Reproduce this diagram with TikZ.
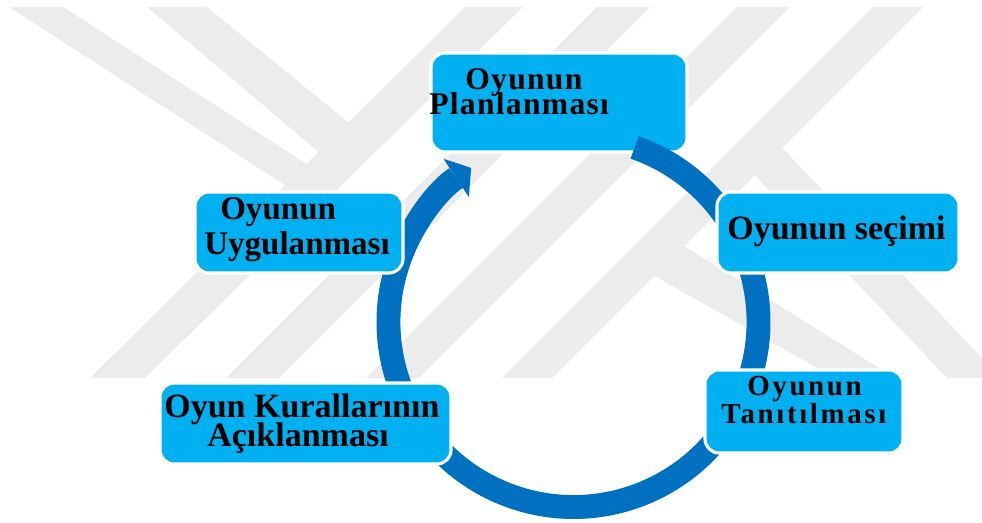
\documentclass[tikz,border=0pt]{standalone}
\usepackage{fontspec}
\setmainfont{Liberation Serif}
\usetikzlibrary{arrows.meta,calc}

\definecolor{boxblue}{RGB}{0,176,240}
\definecolor{ringblue}{RGB}{0,112,192}
\definecolor{wmgray}{RGB}{236,236,236}

% font size (pt) and letter spacing for the box texts
\newcommand{\boxfont}[2]{\bfseries\fontsize{#1}{#1}\selectfont\addfontfeature{LetterSpace=#2}}

\tikzset{
  stepbox/.style={draw=white, line width=2.2pt, fill=boxblue, rounded corners=10pt},
  steptext/.style={inner sep=0pt, anchor=base west},
  ring/.style={draw=ringblue, line width=17pt},
  wm/.style={fill=wmgray}
}

\begin{document}
\begin{tikzpicture}[x=0.025cm,y=-0.025cm]
\useasboundingbox (0,0) rectangle (982,522);

% watermark in the background
\begin{scope}
\clip (0,7) rectangle (982,378);
\fill[wm] (9,7) -- (63,7) -- (316,170) -- (308,200) -- cycle;
\fill[wm] (147,7) -- (207,7) -- (370,140) -- (340,170) -- cycle;
\fill[wm] (465,7) -- (523,7) -- (145,378) -- (90,378) -- cycle;
\fill[wm] (597,7) -- (650,7) -- (279,378) -- (226,378) -- cycle;
\fill[wm] (737,7) -- (790,7) -- (419,378) -- (366,378) -- cycle;
\fill[wm] (873,7) -- (923,7) -- (552,378) -- (502,378) -- cycle;
\fill[wm] (742,162) -- (770,135) -- (1001,378) -- (947,378) -- cycle;
\fill[wm] (630,262) -- (668,236) -- (895,378) -- (835,378) -- cycle;
\end{scope}

% boxes
\node[stepbox, minimum width=256*0.025cm, minimum height=99*0.025cm] (plan) at (559,102.5) {};
\node[steptext] (plan1) at (465,89) {\boxfont{22.5}{4}Oyunun};
\node[steptext] (plan2) at (429,114) {\boxfont{22.5}{4}Planlanması};

% the ring with its arrow
\coordinate (c) at (573.5,322);
\draw[ring, -{Triangle[length=12.8pt, width=32.7pt, line width=0pt]}]
  ($(c)+(-70.7:185)$) arc[start angle=-70.7, end angle=236.4, radius=185];

\node[stepbox, minimum width=242*0.025cm, minimum height=81*0.025cm] (sec) at (838,232.5) {};
\node[steptext] (sec1) at (727,239) {\boxfont{24.2}{0}Oyunun seçimi};

\node[stepbox, minimum width=198*0.025cm, minimum height=83*0.025cm] (tan) at (804,411.5) {};
\node[steptext] (tan1) at (747,395) {\boxfont{20.6}{9}Oyunun};
\node[steptext] (tan2) at (721,423) {\boxfont{20.6}{9}Tanıtılması};

\node[stepbox, minimum width=291*0.025cm, minimum height=81*0.025cm] (acik) at (305.5,423.5) {};
\node[steptext] (acik1) at (164,417) {\boxfont{24.2}{0}Oyun Kurallarının};
\node[steptext] (acik2) at (207,446) {\boxfont{24.2}{0}Açıklanması};

\node[stepbox, minimum width=208*0.025cm, minimum height=81*0.025cm] (uyg) at (299,232.5) {};
\node[steptext] (uyg1) at (220,219) {\boxfont{23.5}{0}Oyunun};
\node[steptext] (uyg2) at (204,254) {\boxfont{23.5}{0}Uygulanması};
\end{tikzpicture}
\end{document}
